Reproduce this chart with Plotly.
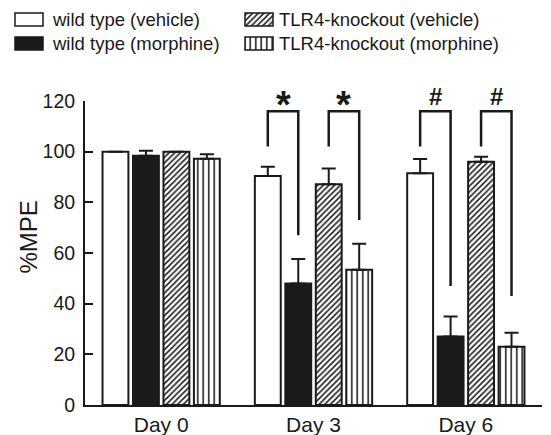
import plotly.graph_objects as go

W, H = 551, 435

days = ["Day 0", "Day 3", "Day 6"]
series_names = ["wild type (vehicle)", "wild type (morphine)",
                "TLR4-knockout (vehicle)", "TLR4-knockout (morphine)"]
wt_vehicle = [100, 90.4, 91.5]
wt_vehicle_err = [0, 3.6, 5.6]
wt_morphine = [98.4, 48.0, 27.0]
wt_morphine_err = [2.0, 9.6, 7.9]
ko_vehicle = [100, 87.1, 96.0]
ko_vehicle_err = [0, 6.3, 2.0]
ko_morphine = [97.2, 53.4, 23.0]
ko_morphine_err = [1.8, 10.3, 5.5]

y_ticks = [0, 20, 40, 60, 80, 100, 120]

# significance brackets
sig_days = [1, 1, 2, 2]
sig_left = [0, 2, 0, 2]
sig_right = [1, 3, 1, 3]
sig_symbol = ["*", "*", "#", "#"]
sig_right_end = [67, 73, 47, 43]
bracket_top = 116
bracket_left_end = 102

FONT = "Liberation Sans, Arial, sans-serif"
BLACK = "#1a1a1a"

styles = [
    dict(color="white", shape=""),
    dict(color=BLACK, shape=""),
    dict(color="white", shape="/"),
    dict(color="white", shape="|"),
]
pat_size = {"": 4, "/": 4, "|": 5.5}
pat_sol = {"": 0.3, "/": 0.38, "|": 0.28}

values = [wt_vehicle, wt_morphine, ko_vehicle, ko_morphine]
errors = [wt_vehicle_err, wt_morphine_err, ko_vehicle_err, ko_morphine_err]


def pattern_for(st):
    if st["shape"] == "":
        return dict(shape="")
    return dict(shape=st["shape"], fgcolor=BLACK, bgcolor="white",
                size=pat_size[st["shape"]], solidity=pat_sol[st["shape"]],
                fillmode="replace")


fig = go.Figure()
for name, vals, errs, st in zip(series_names, values, errors, styles):
    fig.add_trace(go.Bar(
        x=days, y=vals, name=name, showlegend=False,
        marker=dict(color=st["color"], line=dict(color=BLACK, width=2),
                    pattern=pattern_for(st)),
        error_y=dict(type="data", array=errs, arrayminus=[0] * len(errs), symmetric=False,
                     color=BLACK, thickness=2, width=7, visible=True),
        xaxis="x", yaxis="y",
    ))

# legend swatches drawn on a hidden pixel-coordinate axis
leg_x = [29, 29, 259, 259]
leg_base = [13, 37, 13, 37]
for lx, lb, st in zip(leg_x, leg_base, styles):
    fig.add_trace(go.Bar(
        x=[lx], y=[13], base=[lb], width=[28], offset=-14,
        marker=dict(color=st["color"], line=dict(color=BLACK, width=1.5),
                    pattern=pattern_for(st)),
        showlegend=False, hoverinfo="skip", xaxis="x2", yaxis="y2",
    ))

annotations = []
leg_text_x = [50, 50, 277, 277]
leg_text_y = [19.5, 43.5, 19.5, 43.5]
for name, tx, ty in zip(series_names, leg_text_x, leg_text_y):
    annotations.append(dict(text=name, x=tx / W, y=1 - ty / H, xref="paper", yref="paper",
                            xanchor="left", yanchor="middle", showarrow=False,
                            font=dict(family=FONT, size=18.5, color=BLACK)))

annotations.append(dict(text="%MPE", x=28 / W, y=1 - 237.5 / H, xref="paper", yref="paper",
                        textangle=-90, xanchor="center", yanchor="middle", showarrow=False,
                        font=dict(family=FONT, size=24, color=BLACK)))

offsets = [-0.3, -0.1, 0.1, 0.3]
shapes = []
for d, l, r, sym, rend in zip(sig_days, sig_left, sig_right, sig_symbol, sig_right_end):
    xl = d + offsets[l]
    xr = d + offsets[r]
    path = f"M {xl},{bracket_left_end} L {xl},{bracket_top} L {xr},{bracket_top} L {xr},{rend}"
    shapes.append(dict(type="path", path=path, xref="x", yref="y",
                       line=dict(color=BLACK, width=2.5)))
    if sym == "*":
        annotations.append(dict(text="<b>*</b>", x=(xl + xr) / 2, y=118.2, xref="x", yref="y",
                                xanchor="center", yanchor="bottom", showarrow=False,
                                yshift=-22, font=dict(family=FONT, size=38, color=BLACK)))
    else:
        annotations.append(dict(text="<b>#</b>", x=(xl + xr) / 2, y=118.2, xref="x", yref="y",
                                xanchor="center", yanchor="bottom", showarrow=False,
                                yshift=-6, font=dict(family=FONT, size=24, color=BLACK)))

fig.update_layout(
    width=W, height=H,
    margin=dict(l=0, r=0, t=0, b=0, autoexpand=False),
    paper_bgcolor="white", plot_bgcolor="rgba(0,0,0,0)",
    barmode="group", bargap=0.2, bargroupgap=0.15,
    font=dict(family=FONT, color=BLACK),
    xaxis=dict(domain=[85 / W, 542 / W], showline=True, linecolor=BLACK, linewidth=2,
               ticks="", showgrid=False, zeroline=False, automargin=False,
               tickfont=dict(family=FONT, size=21, color=BLACK), anchor="y"),
    yaxis=dict(domain=[(H - 405) / H, (H - 101) / H], range=[0, 120], showline=True,
               linecolor=BLACK, linewidth=2, ticks="inside", ticklen=8, tickwidth=2,
               tickcolor=BLACK, tickvals=y_ticks, showgrid=False, zeroline=False,
               ticklabelstandoff=4, automargin=False,
               tickfont=dict(family=FONT, size=19.5, color=BLACK), anchor="x"),
    xaxis2=dict(domain=[0, 1], range=[0, W], visible=False, anchor="y2", fixedrange=True,
                automargin=False),
    yaxis2=dict(domain=[0, 1], range=[H, 0], visible=False, anchor="x2", fixedrange=True,
                automargin=False),
    shapes=shapes, annotations=annotations,
)

fig.write_html("out.html", config={"displayModeBar": False},
               post_script="document.body.style.margin='0';document.body.style.overflow='hidden';")
